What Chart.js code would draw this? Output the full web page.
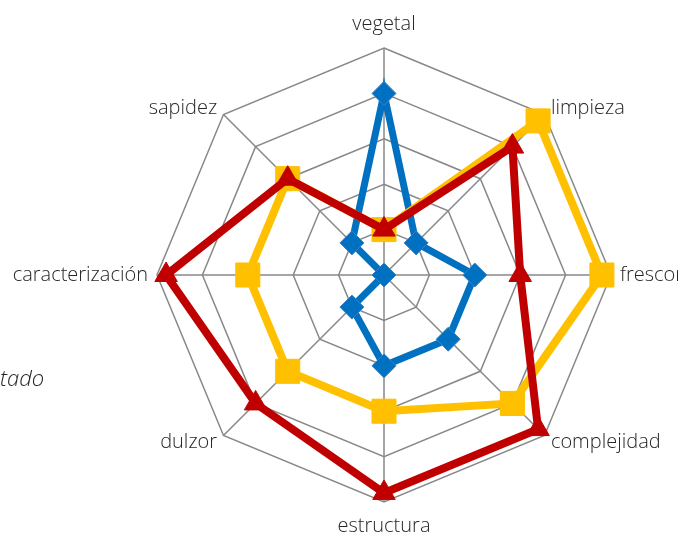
<!DOCTYPE html>
<html>
<head>
<meta charset="utf-8">
<script src="https://cdn.jsdelivr.net/npm/chart.js@4"></script>
<style>
  html, body { margin: 0; padding: 0; background: #fff; overflow: hidden; }
  body { width: 678px; height: 535px; position: relative; }
  #wrap { position: absolute; left: -9px; top: 12px; width: 760px; height: 526px; }
  #side-note { position: absolute; left: 0px; top: 362px; font: italic 300 22px "Open Sans", sans-serif; color: #262626; }
</style>
</head>
<body>
<div id="wrap"><canvas id="radar" width="760" height="526"></canvas></div>
<div id="side-note">tado</div>
<script>
// Axes of the tasting wheel, clockwise from the top
const attributes = ['vegetal', 'limpieza', 'frescor', 'complejidad', 'estructura', 'dulzor', 'caracterización', 'sapidez'];

// Scores (scale 0 - 5)
const blueScores   = [4, 1, 2, 2, 2, 1, 0, 1];
const yellowScores = [1, 4.8, 4.8, 4, 3, 3, 3, 3];
const redScores    = [1, 4, 3, 4.8, 4.8, 4, 4.8, 3];

const scaleMin = 0;
const scaleMax = 5;
const scaleStep = 1;

// Keep the diagonal labels vertically centred on their spoke, like the original
const centreDiagonalLabels = {
    id: 'centreDiagonalLabels',
    afterLayout(chart) {
        const scale = chart.scales.r;
        const items = scale._pointLabelItems || [];
        items.forEach((item, i) => {
            if (i % 2 === 0) return;
            const h = item.bottom - item.top;
            const shift = item.top < scale.yCenter ? h / 2 : -h / 2;
            item.y += shift;
            item.top += shift;
            item.bottom += shift;
        });
    }
};

const ctx = document.getElementById('radar').getContext('2d');
const radarChart = new Chart(ctx, {
    type: 'radar',
    data: {
        labels: attributes,
        datasets: [{
            label: 'Serie 1',
            data: blueScores,
            borderColor: '#0070c0',
            borderWidth: 7,
            fill: false,
            pointStyle: 'rectRot',
            pointRadius: 12,
            pointHoverRadius: 12,
            pointBackgroundColor: '#0070c0',
            pointBorderColor: '#3c7fc6',
            pointBorderWidth: 1,
            order: 3
        }, {
            label: 'Serie 2',
            data: yellowScores,
            borderColor: '#ffc000',
            borderWidth: 8,
            fill: false,
            pointStyle: 'rect',
            pointRadius: 17,
            pointHoverRadius: 17,
            pointBackgroundColor: '#ffc000',
            pointBorderColor: '#ffc000',
            pointBorderWidth: 1,
            order: 2
        }, {
            label: 'Serie 3',
            data: redScores,
            borderColor: '#c00000',
            borderWidth: 8,
            fill: false,
            pointStyle: 'triangle',
            pointRadius: 13,
            pointHoverRadius: 13,
            pointBackgroundColor: '#c00000',
            pointBorderColor: '#c00000',
            pointBorderWidth: 1,
            order: 1
        }]
    },
    options: {
        responsive: false,
        animation: false,
        layout: { padding: 0 },
        plugins: {
            legend: { display: false },
            tooltip: { enabled: false }
        },
        scales: {
            r: {
                min: scaleMin,
                max: scaleMax,
                ticks: { display: false, stepSize: scaleStep },
                grid: { color: '#888888', lineWidth: 1.5 },
                angleLines: { color: '#888888', lineWidth: 1.5 },
                pointLabels: {
                    // top and bottom labels sit a little further out
                    padding: (c) => (c.index % 4 === 0 ? 12 : 9),
                    color: '#262626',
                    font: { family: 'Open Sans', size: 20, weight: '300' }
                }
            }
        }
    },
    plugins: [centreDiagonalLabels]
});
</script>
</body>
</html>
